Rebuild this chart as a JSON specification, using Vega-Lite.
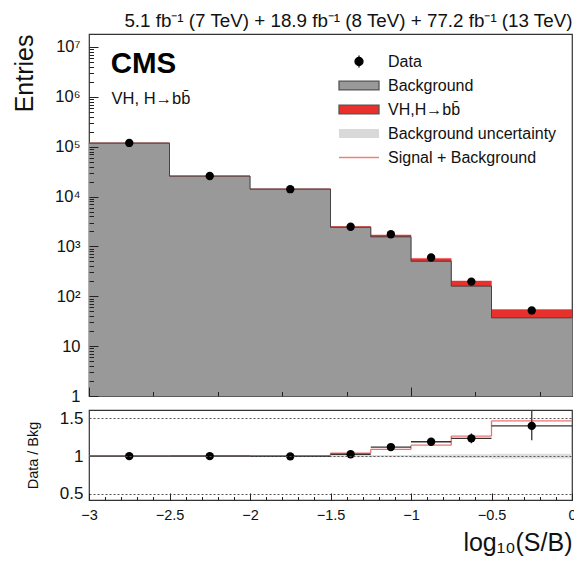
{
  "$schema": "https://vega.github.io/schema/vega-lite/v6.json",
  "padding": {"left": 11, "top": 11, "right": 0, "bottom": 0},
  "spacing": 2,
  "config": {
    "font": "Liberation Sans",
    "view": {"stroke": "#333", "strokeWidth": 1.2},
    "axis": {"labelColor": "#111", "titleColor": "#111", "tickColor": "#222", "tickWidth": 1, "domain": false, "grid": false, "labelFont": "Liberation Sans", "titleFont": "Liberation Sans", "titleFontWeight": "normal", "labelFlush": false, "labelOverlap": false, "zindex": 1}
  },
  "datasets": {
    "bins": [
      {"lo": -3, "hi": -2.5, "x": -2.75, "bkg": 118000, "sb": 118400, "data": 119000, "derr": 350, "ratio": 1.0, "rlo": 0.995, "rhi": 1.005, "sbr": 1.003, "ulo": 0.99, "uhi": 1.01},
      {"lo": -2.5, "hi": -2, "x": -2.25, "bkg": 25700, "sb": 25850, "data": 25800, "derr": 160, "ratio": 1.0, "rlo": 0.993, "rhi": 1.007, "sbr": 1.005, "ulo": 0.99, "uhi": 1.01},
      {"lo": -2, "hi": -1.5, "x": -1.75, "bkg": 14100, "sb": 14220, "data": 14050, "derr": 120, "ratio": 0.997, "rlo": 0.989, "rhi": 1.005, "sbr": 1.008, "ulo": 0.99, "uhi": 1.01},
      {"lo": -1.5, "hi": -1.25, "x": -1.375, "bkg": 2420, "sb": 2500, "data": 2480, "derr": 50, "ratio": 1.025, "rlo": 1.005, "rhi": 1.045, "sbr": 1.04, "ulo": 0.985, "uhi": 1.015},
      {"lo": -1.25, "hi": -1, "x": -1.125, "bkg": 1560, "sb": 1700, "data": 1750, "derr": 42, "ratio": 1.12, "rlo": 1.095, "rhi": 1.145, "sbr": 1.09, "ulo": 0.985, "uhi": 1.015},
      {"lo": -1, "hi": -0.75, "x": -0.875, "bkg": 505, "sb": 575, "data": 600, "derr": 25, "ratio": 1.19, "rlo": 1.14, "rhi": 1.24, "sbr": 1.145, "ulo": 0.98, "uhi": 1.02},
      {"lo": -0.75, "hi": -0.5, "x": -0.625, "bkg": 160, "sb": 203, "data": 197, "derr": 14, "ratio": 1.235, "rlo": 1.17, "rhi": 1.3, "sbr": 1.265, "ulo": 0.975, "uhi": 1.025},
      {"lo": -0.5, "hi": 0, "x": -0.25, "bkg": 37, "sb": 54, "data": 52, "derr": 7, "ratio": 1.4, "rlo": 1.21, "rhi": 1.6, "sbr": 1.465, "ulo": 0.97, "uhi": 1.03}
    ]
  },
  "vconcat": [
    {
      "width": 483,
      "height": 362,
      "title": {"text": "5.1 fb⁻¹ (7 TeV) + 18.9 fb⁻¹ (8 TeV) + 77.2 fb⁻¹ (13 TeV)", "anchor": "end", "fontSize": 18.8, "fontWeight": "normal", "font": "Liberation Sans", "color": "#111", "offset": 3},
      "data": {"name": "bins"},
      "resolve": {"axis": {"y": "independent"}},
      "layer": [
        {
          "mark": {"type": "rect"},
          "encoding": {
            "x": {"field": "lo", "type": "quantitative", "scale": {"domain": [-3, 0], "nice": false, "zero": false},
              "axis": {"title": null, "labels": false, "orient": "top", "offset": -362, "minExtent": 0, "maxExtent": 0, "zindex": 1, "values": [-3,-2.9,-2.8,-2.7,-2.6,-2.5,-2.4,-2.3,-2.2,-2.1,-2,-1.9,-1.8,-1.7,-1.6,-1.5,-1.4,-1.3,-1.2,-1.1,-1,-0.9,-0.8,-0.7,-0.6,-0.5,-0.4,-0.3,-0.2,-0.1,0],
                "tickSize": {"condition": {"test": "abs(datum.value*2 - round(datum.value*2)) < 0.001", "value": 9}, "value": 4.5}}},
            "x2": {"field": "hi"},
            "y": {"field": "bkg", "type": "quantitative", "title": "Entries", "scale": {"type": "log", "domain": [1, 18200000], "nice": false},
              "axis": {"title": "Entries", "orient": "left", "titleFontSize": 25, "titleAnchor": "end", "titlePadding": 17, "labelFontSize": 16.5, "labelPadding": 18, "labelOverlap": false, "zindex": 1, "tickOpacity": 0,
                "values": [1, 10, 100, 1000, 10000, 100000, 1000000, 10000000],
                "labelExpr": "round(log(datum.value)/LN10) == 0 ? '1' : round(log(datum.value)/LN10) == 1 ? '10' : '10' + ['','','²','³','⁴','⁵','⁶','⁷'][round(log(datum.value)/LN10)]",
                "tickSize": -9}},
            "y2": {"datum": 1},
            "color": {"datum": "Background", "type": "nominal",
              "scale": {"domain": ["Data", "Background", "VH,H→bb̄", "Background uncertainty", "Signal + Background"], "range": ["#000000", "#999999", "#e8312c", "#d9d9d9", "#f28080"]},
              "legend": {"orient": "none", "legendX": 249, "legendY": 16, "title": null, "labelFontSize": 16, "labelLimit": 400, "labelColor": "#111", "labelFont": "Liberation Sans", "symbolSize": 1600, "clipHeight": 23, "labelOffset": 8, "rowPadding": 1, "padding": 0, "symbolType": "square",
                "encode": {"symbols": {"update": {
                  "shape": {"signal": "datum.value === 'Data' ? 'M0,-0.3V0.3M0.2,0A0.2,0.2 0 1,1 -0.2,0A0.2,0.2 0 1,1 0.2,0' : datum.value === 'Signal + Background' ? 'M-1,0H1' : 'M-1,-0.22H1V0.22H-1Z'"},
                  "fill": {"signal": "datum.value === 'Data' ? '#000' : datum.value === 'Background' ? '#999999' : datum.value === 'Background uncertainty' ? '#dcdcdc' : datum.value === 'Signal + Background' ? 'transparent' : '#e8312c'"},
                  "stroke": {"signal": "datum.value === 'Data' ? '#000' : datum.value === 'Signal + Background' ? '#f28080' : datum.value === 'Background uncertainty' ? 'transparent' : '#555'"},
                  "strokeWidth": {"value": 1.3},
                  "size": {"value": 1600},
                  "opacity": {"value": 1},
                  "fillOpacity": {"value": 1},
                  "strokeOpacity": {"value": 1}
                }}}
              }
            }
          }
        },
        {
          "mark": {"type": "rect", "fill": "#999999", "stroke": "#999999", "strokeWidth": 0.8},
          "encoding": {
            "x": {"field": "lo", "type": "quantitative"},
            "x2": {"field": "hi"},
            "y": {"field": "bkg", "type": "quantitative", "title": null,
              "axis": {"orient": "right", "offset": -483, "minExtent": 0, "maxExtent": 0, "labels": false, "title": null, "zindex": 1,
                "values": [1,2,3,4,5,6,7,8,9,10,20,30,40,50,60,70,80,90,100,200,300,400,500,600,700,800,900,1000,2000,3000,4000,5000,6000,7000,8000,9000,10000,20000,30000,40000,50000,60000,70000,80000,90000,100000,200000,300000,400000,500000,600000,700000,800000,900000,1000000,2000000,3000000,4000000,5000000,6000000,7000000,8000000,9000000,10000000],
                "tickSize": {"condition": {"test": "abs(log(datum.value)/LN10 - round(log(datum.value)/LN10)) < 0.000001", "value": 9}, "value": 4.5}}},
            "y2": {"datum": 1}
          }
        },
        {
          "mark": {"type": "rect", "fill": "#e8312c", "stroke": "#e8312c", "strokeWidth": 0.4},
          "encoding": {
            "x": {"field": "lo", "type": "quantitative"},
            "x2": {"field": "hi"},
            "y": {"field": "sb", "type": "quantitative", "axis": null},
            "y2": {"field": "bkg"}
          }
        },
        {
          "mark": {"type": "rule", "color": "#444", "strokeWidth": 1},
          "encoding": {
            "x": {"field": "lo", "type": "quantitative"},
            "x2": {"field": "hi"},
            "y": {"field": "bkg", "type": "quantitative", "axis": null}
          }
        },
        {
          "transform": [
            {"window": [{"op": "lag", "field": "bkg", "as": "prevBkg"}], "sort": [{"field": "lo", "order": "ascending"}]},
            {"filter": "datum.prevBkg != null"}
          ],
          "mark": {"type": "rule", "color": "#444", "strokeWidth": 1},
          "encoding": {
            "x": {"field": "lo", "type": "quantitative"},
            "y": {"field": "bkg", "type": "quantitative", "axis": null},
            "y2": {"field": "prevBkg"}
          }
        },
        {
          "mark": {"type": "errorbar", "color": "#000", "thickness": 1.3},
          "encoding": {
            "x": {"field": "x", "type": "quantitative"},
            "y": {"field": "data", "type": "quantitative", "axis": null},
            "yError": {"field": "derr"}
          }
        },
        {
          "mark": {"type": "point", "filled": true, "color": "#000", "size": 70, "opacity": 1},
          "encoding": {
            "x": {"field": "x", "type": "quantitative"},
            "y": {"field": "data", "type": "quantitative", "axis": null}
          }
        },
        {
          "data": {"values": [{}]},
          "mark": {"type": "text", "text": "CMS", "fontSize": 29.5, "fontWeight": "bold", "font": "Liberation Sans", "align": "left", "baseline": "alphabetic", "color": "#000"},
          "encoding": {"x": {"datum": -2.865}, "y": {"datum": 3000000, "axis": null}}
        },
        {
          "data": {"values": [{}]},
          "mark": {"type": "text", "text": "VH, H→bb̄", "fontSize": 16.5, "font": "Liberation Sans", "align": "left", "baseline": "alphabetic", "color": "#111"},
          "encoding": {"x": {"datum": -2.86}, "y": {"datum": 720000, "axis": null}}
        }
      ]
    },
    {
      "width": 483,
      "height": 90,
      "data": {"name": "bins"},
      "resolve": {"axis": {"x": "independent"}},
      "layer": [
        {
          "mark": {"type": "rect", "color": "#d4d4d4", "opacity": 0.8},
          "encoding": {
            "x": {"field": "lo", "type": "quantitative", "title": "log₁₀(S/B)", "scale": {"domain": [-3, 0], "nice": false, "zero": false},
              "axis": {"title": "log₁₀(S/B)", "orient": "bottom", "titleFontSize": 25, "titleAnchor": "end", "titlePadding": 9, "labelFontSize": 14.5, "labelPadding": 15, "labelOverlap": false, "zindex": 1, "tickOpacity": 0,
                "values": [-3, -2.5, -2, -1.5, -1, -0.5, 0],
                "format": "~g",
                "tickSize": -7}},
            "x2": {"field": "hi"},
            "y": {"field": "ulo", "type": "quantitative", "title": "Data / Bkg", "scale": {"domain": [0.42, 1.61], "nice": false, "zero": false},
              "axis": {"title": "Data / Bkg", "titleFontSize": 14.5, "titlePadding": 19, "labelFontSize": 17, "labelPadding": 15, "labelOverlap": false, "values": [0.5, 1, 1.5], "format": "~g", "tickSize": -9, "tickOpacity": 0, "zindex": 1,
                "grid": true, "gridDash": [2, 2], "gridColor": "#555", "gridWidth": 1}},
            "y2": {"field": "uhi"}
          }
        },
        {
          "mark": {"type": "rule", "color": "#f07070", "strokeWidth": 1.3},
          "encoding": {
            "x": {"field": "lo", "type": "quantitative", "title": null,
              "axis": {"orient": "top", "offset": -90, "minExtent": 0, "maxExtent": 0, "labels": false, "title": null, "zindex": 1,
                "values": [-3,-2.9,-2.8,-2.7,-2.6,-2.5,-2.4,-2.3,-2.2,-2.1,-2,-1.9,-1.8,-1.7,-1.6,-1.5,-1.4,-1.3,-1.2,-1.1,-1,-0.9,-0.8,-0.7,-0.6,-0.5,-0.4,-0.3,-0.2,-0.1,0],
                "tickSize": {"condition": {"test": "abs(datum.value*2 - round(datum.value*2)) < 0.001", "value": 7}, "value": 3.5}}},
            "x2": {"field": "hi"},
            "y": {"field": "sbr", "type": "quantitative", "title": "Data / Bkg"}
          }
        },
        {
          "transform": [
            {"window": [{"op": "lag", "field": "sbr", "as": "prevSbr"}], "sort": [{"field": "lo", "order": "ascending"}]},
            {"filter": "datum.prevSbr != null"}
          ],
          "mark": {"type": "rule", "color": "#f07070", "strokeWidth": 1.3},
          "encoding": {
            "x": {"field": "lo", "type": "quantitative", "axis": null},
            "y": {"field": "sbr", "type": "quantitative", "title": "Data / Bkg"},
            "y2": {"field": "prevSbr"}
          }
        },
        {
          "mark": {"type": "rule", "color": "#333", "strokeWidth": 1.3},
          "encoding": {
            "x": {"field": "lo", "type": "quantitative", "axis": null},
            "x2": {"field": "hi"},
            "y": {"field": "ratio", "type": "quantitative", "title": "Data / Bkg"}
          }
        },
        {
          "mark": {"type": "rule", "color": "#333", "strokeWidth": 1.3, "clip": true},
          "encoding": {
            "x": {"field": "x", "type": "quantitative", "axis": null},
            "y": {"field": "rlo", "type": "quantitative", "title": "Data / Bkg"},
            "y2": {"field": "rhi"}
          }
        },
        {
          "mark": {"type": "point", "filled": true, "color": "#000", "size": 70, "opacity": 1},
          "encoding": {
            "x": {"field": "x", "type": "quantitative", "axis": null},
            "y": {"field": "ratio", "type": "quantitative", "title": "Data / Bkg"}
          }
        }
      ]
    }
  ]
}
